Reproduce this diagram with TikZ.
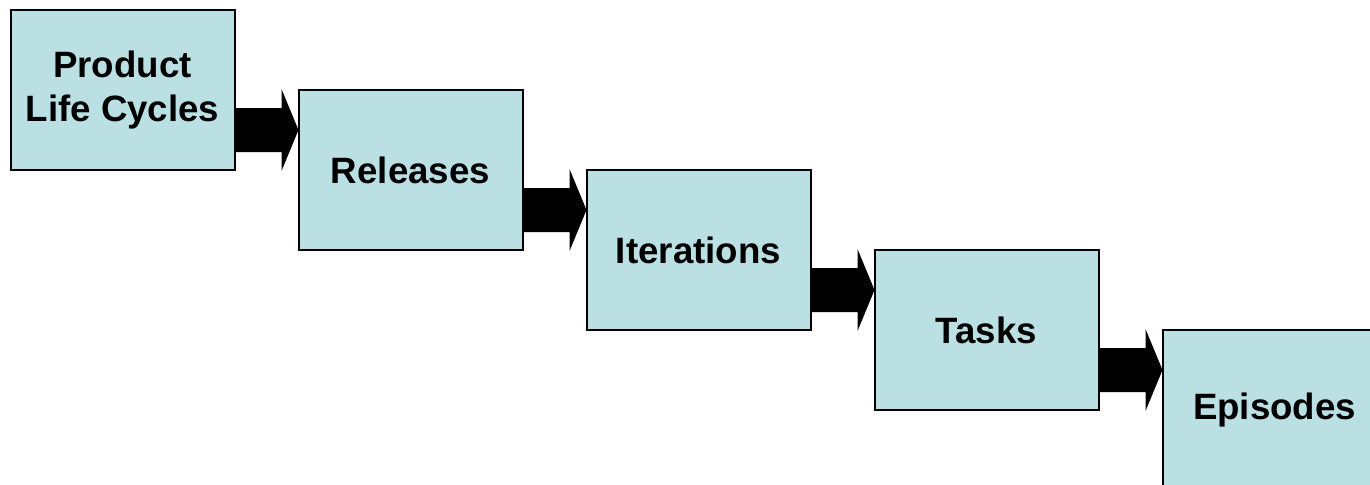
\documentclass[tikz,border=0pt]{standalone}
\usepackage{fontspec}
\setmainfont{Liberation Sans}
\usetikzlibrary{calc}

\definecolor{stagefill}{RGB}{186,224,227}

\tikzset{
    stage/.style={draw=black, line width=1.5pt, fill=stagefill, outer sep=0pt,
        minimum width=168pt, minimum height=120pt, align=center,
        font=\fontsize{27.5}{33}\selectfont\bfseries}
}

% fat black arrow from box #1 to box #2, at the height between them
\newcommand{\blockarrow}[2]{
    \coordinate (m) at ($(#1.south east)!0.5!(#2.north west)$);
    \fill[black] ($(#1.east|-m)+(0,-22)$) -- ($(#2.west|-m)+(-17,-22)$)
        -- ($(#2.west|-m)+(-17,-41)$) -- (#2.west|-m)
        -- ($(#2.west|-m)+(-17,41)$) -- ($(#2.west|-m)+(-17,22)$)
        -- ($(#1.east|-m)+(0,22)$) -- cycle;
}

\begin{document}
\begin{tikzpicture}[x=0.75pt,y=-0.75pt]
    \useasboundingbox (0,0) rectangle (1370,485);
    \clip (0,0) rectangle (1370,485);

    \foreach \name/\txt [count=\i from 0] in {plc/Product\\Life Cycles, rel/Releases, iter/Iterations, task/Tasks, epi/Episodes}{
        \node[stage] (\name) at (122.5+\i*288, 90+\i*80) {\txt};
    }

    \foreach \a/\b in {plc/rel, rel/iter, iter/task, task/epi}{
        \blockarrow{\a}{\b}
    }
\end{tikzpicture}
\end{document}
